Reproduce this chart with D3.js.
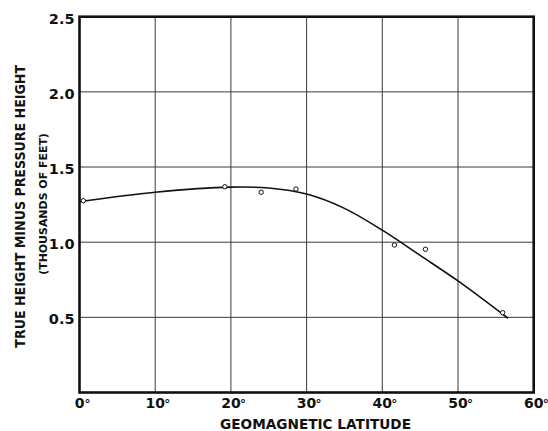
<!DOCTYPE html>
<html>
<head>
<meta charset="utf-8">
<script src="https://cdn.jsdelivr.net/npm/d3@7"></script>
<style>
  body { margin: 0; background: #fff; }
  text { font-family: "DejaVu Sans", sans-serif; fill: #111; }
</style>
</head>
<body>
<script>
// the canvas size
var width = 548
var height = 431

// observed points (open circles)
const obsLat = [0.5, 19.2, 24.0, 28.6, 41.6, 45.7, 55.9];
const obsVal = [1.276, 1.369, 1.332, 1.354, 0.981, 0.953, 0.531];

// the smooth hand drawn curve
const curveLat = [0, 10, 20, 25, 30, 35, 40, 45, 50, 56.6];
const curveVal = [1.27, 1.332, 1.366, 1.36, 1.32, 1.225, 1.08, 0.912, 0.742, 0.494];

// ticks
const xTicks = [0, 10, 20, 30, 40, 50, 60];
const yTicks = [0.5, 1.0, 1.5, 2.0, 2.5];
const yTickLabels = ["0.5", "1.0", "1.5", "2.0", "2.5"];

// plot frame (window.top is taken, so prefixed names)
var pLeft = 79.5, pRight = 533.7, pTop = 16.7, pBottom = 392.5

const svg = d3.select('body').append('svg')
  .attr('width', width)
  .attr('height', height)

var x = d3.scaleLinear().domain([0, 60]).range([pLeft, pRight])
var y = d3.scaleLinear().domain([0, 2.5]).range([pBottom, pTop])

// grid lines
svg.append('g')
  .selectAll('line')
  .data(xTicks.slice(1, -1))
  .enter().append('line')
  .attr('x1', d => x(d)).attr('x2', d => x(d))
  .attr('y1', pTop).attr('y2', pBottom)
  .style('stroke', '#3a3a3a').style('stroke-width', 1)

svg.append('g')
  .selectAll('line')
  .data(yTicks.slice(0, -1))
  .enter().append('line')
  .attr('x1', pLeft).attr('x2', pRight)
  .attr('y1', d => y(d)).attr('y2', d => y(d))
  .style('stroke', '#3a3a3a').style('stroke-width', 1)

// frame
svg.append('rect')
  .attr('x', pLeft).attr('y', pTop)
  .attr('width', pRight - pLeft).attr('height', pBottom - pTop)
  .style('fill', 'none').style('stroke', '#111').style('stroke-width', 2.6)

// y tick labels
svg.append('g')
  .selectAll('text')
  .data(yTicks)
  .enter().append('text')
  .attr('x', pLeft - 5)
  .attr('y', d => y(d) + 6.8)
  .attr('text-anchor', 'end')
  .style('font-size', '14.5px')
  .style('font-weight', 'bold')
  .text((d, i) => yTickLabels[i])

// x tick labels: the number sits centred on the grid line, the degree sign after it
svg.append('g')
  .selectAll('text')
  .data(xTicks)
  .enter().append('text')
  .attr('x', d => x(d))
  .attr('y', 408.3)
  .attr('text-anchor', 'middle')
  .style('font-size', '14px')
  .style('font-weight', 'bold')
  .text(d => d)
svg.append('g')
  .selectAll('text')
  .data(xTicks)
  .enter().append('text')
  .attr('x', d => x(d) + (d == 0 ? 5 : 9))
  .attr('y', 408.3)
  .style('font-size', '12px')
  .style('font-weight', 'bold')
  .text('°')

// axis titles
svg.append('text')
  .attr('x', 315.5).attr('y', 429.3)
  .attr('text-anchor', 'middle')
  .attr('textLength', 191).attr('lengthAdjust', 'spacingAndGlyphs')
  .style('font-size', '13.5px')
  .style('font-weight', 'bold')
  .text('GEOMAGNETIC LATITUDE')

svg.append('text')
  .attr('transform', 'translate(25,206.3) rotate(-90)')
  .attr('text-anchor', 'middle')
  .attr('textLength', 282.7).attr('lengthAdjust', 'spacingAndGlyphs')
  .style('font-size', '13.5px')
  .style('font-weight', 'bold')
  .text('TRUE HEIGHT MINUS PRESSURE HEIGHT')

svg.append('text')
  .attr('transform', 'translate(47,204) rotate(-90)')
  .attr('text-anchor', 'middle')
  .attr('textLength', 141.7).attr('lengthAdjust', 'spacingAndGlyphs')
  .style('font-size', '11px')
  .style('font-weight', 'bold')
  .text('(THOUSANDS OF FEET)')

// the fitted curve
var line = d3.line()
  .x(d => x(d[0]))
  .y(d => y(d[1]))
  .curve(d3.curveCatmullRom.alpha(0.5))

svg.append('path')
  .datum(curveLat.map((d, i) => [d, curveVal[i]]))
  .attr('d', line)
  .style('fill', 'none')
  .style('stroke', '#111')
  .style('stroke-width', 1.6)

// observations
svg.append('g')
  .selectAll('circle')
  .data(obsLat)
  .enter().append('circle')
  .attr('cx', d => x(d))
  .attr('cy', (d, i) => y(obsVal[i]))
  .attr('r', 2.2)
  .style('fill', 'white')
  .style('stroke', '#111')
  .style('stroke-width', 1)
</script>
</body>
</html>
